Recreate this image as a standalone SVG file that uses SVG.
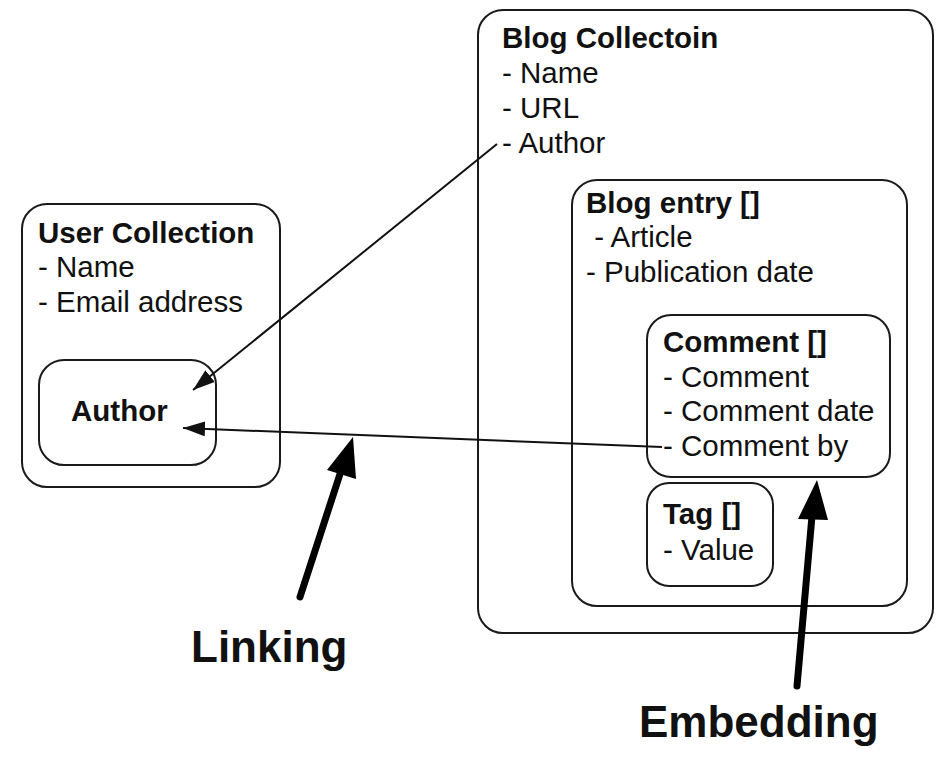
<svg xmlns="http://www.w3.org/2000/svg" width="952" height="759" viewBox="0 0 952 759">
<style>
.box{fill:none;stroke:#1a1a1a;stroke-width:2}
.t{font-family:"Liberation Sans",Arial,sans-serif;font-size:29.5px;fill:#111}
.b{font-weight:bold}
.big{font-family:"Liberation Sans",Arial,sans-serif;font-size:44px;font-weight:bold;fill:#111}
.thin{stroke:#111;stroke-width:2;fill:none}
.thick{stroke:#000;stroke-width:7;fill:none;stroke-linecap:round}
</style>
<defs>
<marker id="ah" viewBox="0 0 10 10" refX="10" refY="5" markerWidth="22" markerHeight="15" markerUnits="userSpaceOnUse" orient="auto" preserveAspectRatio="none">
<path d="M0,0 L10,5 L0,10 z" fill="#111"/>
</marker>
</defs>
<rect width="952" height="759" fill="#fff"/>
<g id="user-collection">
<rect class="box" x="22" y="204" width="258" height="283" rx="25"/>
<text class="t b" x="38" y="243">User Collection</text>
<text class="t" x="38" y="277">- Name</text>
<text class="t" x="38" y="312">- Email address</text>
</g>
<g id="author">
<rect class="box" x="39" y="360" width="177" height="105" rx="25"/>
<text class="t b" x="71" y="421">Author</text>
</g>
<g id="blog-collection">
<rect class="box" x="478" y="10" width="455" height="623" rx="25"/>
<text class="t b" x="502" y="48">Blog Collectoin</text>
<text class="t" x="502" y="83">- Name</text>
<text class="t" x="502" y="118">- URL</text>
<text class="t" x="502" y="153">- Author</text>
</g>
<g id="blog-entry">
<rect class="box" x="572" y="180" width="335" height="426" rx="25"/>
<text class="t b" x="586" y="213">Blog entry []</text>
<text class="t" x="586" y="247" xml:space="preserve"> - Article</text>
<text class="t" x="586" y="282">- Publication date</text>
</g>
<g id="comment">
<rect class="box" x="647" y="315" width="243" height="162" rx="24"/>
<text class="t b" x="663" y="352">Comment []</text>
<text class="t" x="663" y="387">- Comment</text>
<text class="t" x="663" y="421">- Comment date</text>
<text class="t" x="663" y="456">- Comment by</text>
</g>
<g id="tag">
<rect class="box" x="647" y="483" width="126" height="103" rx="22"/>
<text class="t b" x="663" y="524">Tag []</text>
<text class="t" x="663" y="560">- Value</text>
</g>
<g id="connectors">
<path class="thin" d="M497,144 L193,390" marker-end="url(#ah)"/>
<path class="thin" d="M662,447 L183,428" marker-end="url(#ah)"/>
<path class="thick" d="M300,597 L340,474"/>
<polygon points="353,437 327,470 356,479" fill="#000"/>
<path class="thick" d="M797,686 L812,516"/>
<polygon points="817,480 798,519 828,520" fill="#000"/>
</g>
<g id="labels">
<text class="big" x="191" y="662">Linking</text>
<text class="big" x="639" y="737">Embedding</text>
</g>
</svg>
